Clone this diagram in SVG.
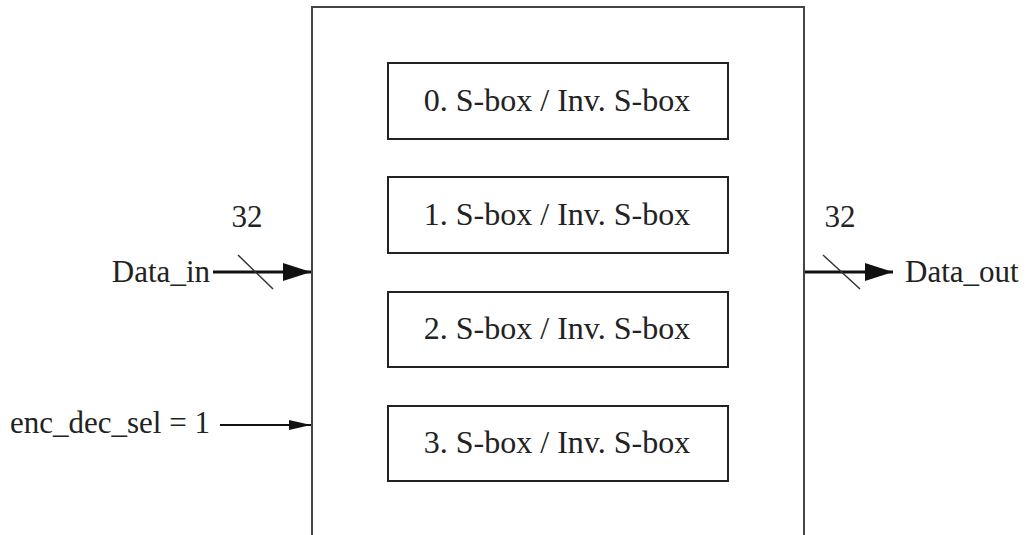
<svg xmlns="http://www.w3.org/2000/svg" width="1029" height="535" viewBox="0 0 1029 535">
  <style>
    .frame { fill: none; stroke: #444; stroke-width: 2; }
    .box { fill: #fff; stroke: #222; stroke-width: 2; }
    .lbl { font-family: "Liberation Serif", "Times New Roman", serif; font-size: 31px; fill: #222; }
    .blbl { font-family: "Liberation Serif", "Times New Roman", serif; font-size: 32px; fill: #222; }
    .bus { stroke: #111; stroke-width: 3; fill: none; }
    .sig { stroke: #111; stroke-width: 2; fill: none; }
    .slash { stroke: #333; stroke-width: 1.5; }
  </style>
  <defs>
    <marker id="bigHead" viewBox="0 0 28 18" refX="28" refY="9" markerWidth="28" markerHeight="18" markerUnits="userSpaceOnUse" orient="auto">
      <path d="M0,0 L28,9 L0,18 Z" fill="#111"/>
    </marker>
    <marker id="smallHead" viewBox="0 0 22 10" refX="22" refY="5" markerWidth="22" markerHeight="10" markerUnits="userSpaceOnUse" orient="auto">
      <path d="M0,0 L22,5 L0,10 Z" fill="#111"/>
    </marker>
  </defs>

  <rect width="1029" height="535" fill="#fff"/>

  <!-- enclosing module, open at the bottom -->
  <g id="module">
    <path class="frame" d="M312,540 L312,7 L804,7 L804,540"/>
  </g>

  <g id="sbox0">
    <rect class="box" x="388" y="63" width="340" height="76"/>
    <text class="blbl" x="557" y="111" text-anchor="middle">0. S-box / Inv. S-box</text>
  </g>
  <g id="sbox1">
    <rect class="box" x="388" y="177" width="340" height="76"/>
    <text class="blbl" x="557" y="225" text-anchor="middle">1. S-box / Inv. S-box</text>
  </g>
  <g id="sbox2">
    <rect class="box" x="388" y="292" width="340" height="75"/>
    <text class="blbl" x="557" y="339" text-anchor="middle">2. S-box / Inv. S-box</text>
  </g>
  <g id="sbox3">
    <rect class="box" x="388" y="406" width="340" height="75"/>
    <text class="blbl" x="557" y="453" text-anchor="middle">3. S-box / Inv. S-box</text>
  </g>

  <!-- port labels -->
  <g id="port-data-in">
    <text class="lbl" x="210" y="282" text-anchor="end">Data_in</text>
    <text class="lbl" x="247" y="227" text-anchor="middle">32</text>
  </g>
  <g id="port-data-out">
    <text class="lbl" x="905" y="282">Data_out</text>
    <text class="lbl" x="840" y="227" text-anchor="middle">32</text>
  </g>
  <g id="port-sel">
    <text class="lbl" x="10" y="433">enc_dec_sel = 1</text>
  </g>

  <g id="connectors">
    <line class="bus" x1="213" y1="272" x2="311" y2="272" marker-end="url(#bigHead)"/>
    <line class="slash" x1="238" y1="255" x2="273" y2="289"/>
    <line class="bus" x1="805" y1="272" x2="893" y2="272" marker-end="url(#bigHead)"/>
    <line class="slash" x1="823" y1="255" x2="860" y2="289"/>
    <line class="sig" x1="220" y1="425" x2="311" y2="425" marker-end="url(#smallHead)"/>
  </g>
</svg>
